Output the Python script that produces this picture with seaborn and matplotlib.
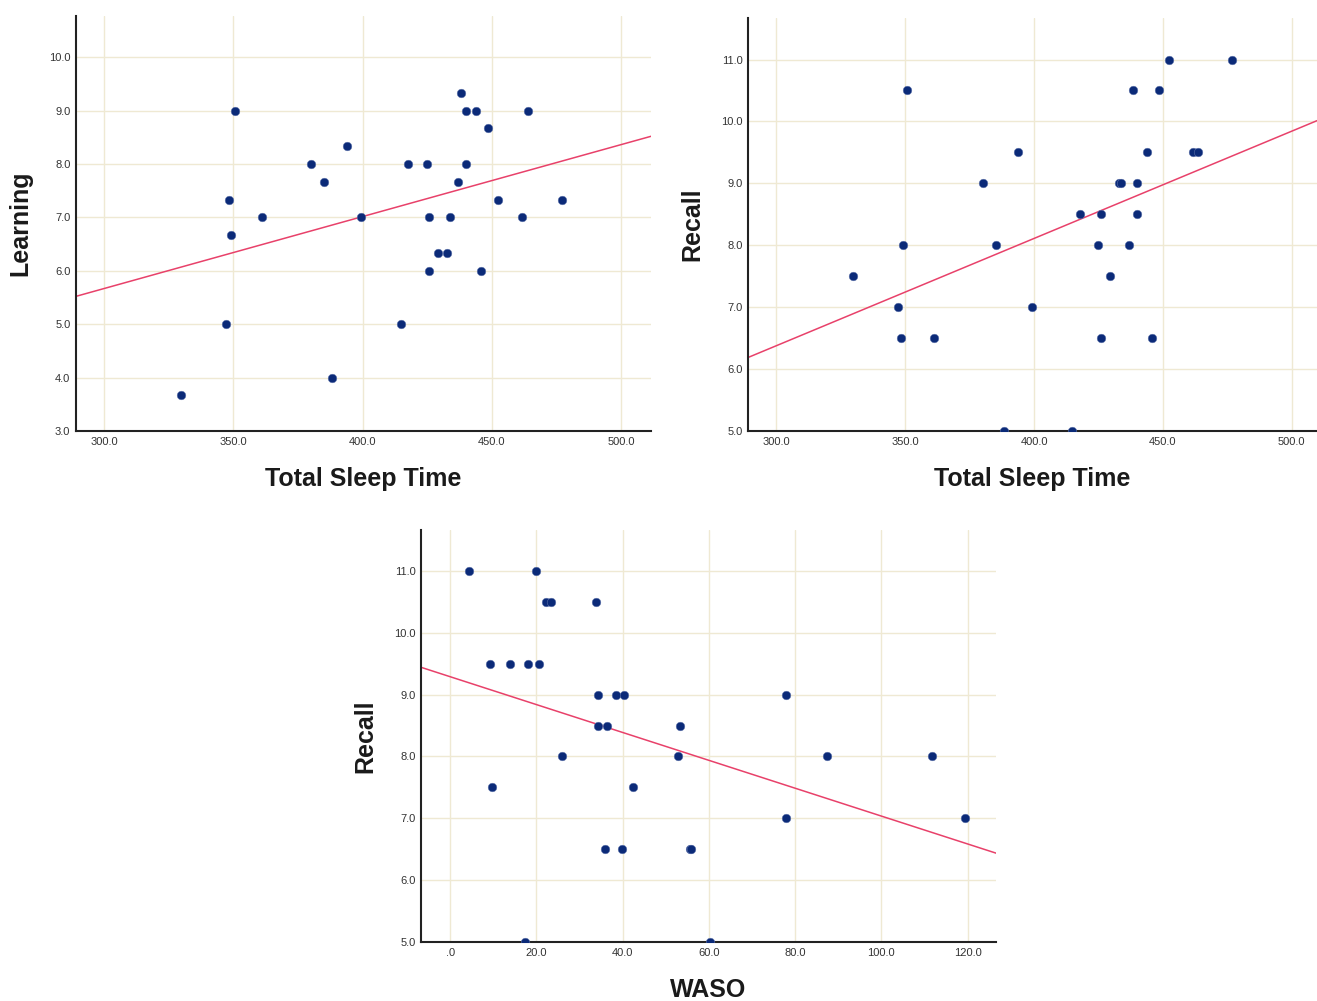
import matplotlib
import matplotlib.pyplot as plt
import numpy as np
import pandas as pd
import seaborn as sns
from matplotlib.ticker import FuncFormatter, MultipleLocator

matplotlib.use("Agg")

# Total sleep time (minutes), shared by the two top panels
tst = [329.7, 347.3, 348.3, 349.2, 350.5, 361.3, 380.2, 385.1, 388.3, 393.9,
       399.3, 414.8, 417.7, 425.0, 425.8, 425.8, 429.3, 432.8, 433.7, 436.9,
       438.2, 439.9, 440.0, 443.8, 445.9, 448.5, 452.4, 461.7, 463.8, 477.0]
learning = [3.67, 5.0, 7.33, 6.67, 9.0, 7.0, 8.0, 7.67, 4.0, 8.33,
            7.0, 5.0, 8.0, 8.0, 7.0, 6.0, 6.33, 6.33, 7.0, 7.67,
            9.33, 9.0, 8.0, 9.0, 6.0, 8.67, 7.33, 7.0, 9.0, 7.33]
recall_tst = [7.5, 7.0, 6.5, 8.0, 10.5, 6.5, 9.0, 8.0, 5.0, 9.5,
              7.0, 5.0, 8.5, 8.0, 8.5, 6.5, 7.5, 9.0, 9.0, 8.0,
              10.5, 9.0, 8.5, 9.5, 6.5, 10.5, 11.0, 9.5, 9.5, 11.0]

# Wake after sleep onset (minutes) vs recall
waso = [4.3, 9.2, 9.8, 13.8, 17.4, 18.0, 19.9, 20.7, 22.3, 23.3,
        26.0, 33.8, 34.3, 34.3, 35.8, 36.3, 38.4, 39.8, 40.3, 42.4,
        52.8, 53.4, 55.6, 55.9, 60.3, 78.0, 78.0, 87.4, 111.8, 119.3]
recall_waso = [11.0, 9.5, 7.5, 9.5, 5.0, 9.5, 11.0, 9.5, 10.5, 10.5,
               8.0, 10.5, 9.0, 8.5, 6.5, 8.5, 9.0, 6.5, 9.0, 7.5,
               8.0, 8.5, 6.5, 6.5, 5.0, 9.0, 7.0, 8.0, 8.0, 7.0]

sns.set_theme(style="white")
plt.rcParams["font.family"] = ["Liberation Sans", "DejaVu Sans"]

MARKER = "#0b2a78"
LINE = "#e8416a"
GRID = "#efe9d3"


def fmt(v, _pos):
    s = f"{v:.1f}"
    return s[1:] if s.startswith("0") else s


def panel(ax, x, y, xname, yname, xlim, ylim, xstep, ystep):
    df = pd.DataFrame({xname: x, yname: y})
    ax.set_xlim(*xlim)
    ax.set_ylim(*ylim)
    ax.xaxis.set_major_locator(MultipleLocator(xstep))
    ax.yaxis.set_major_locator(MultipleLocator(ystep))
    ax.grid(True, color=GRID, linewidth=1.0)
    ax.set_axisbelow(True)
    sns.regplot(data=df, x=xname, y=yname, ax=ax, ci=None, truncate=False,
                scatter=False, line_kws={"color": LINE, "linewidth": 1.1})
    sns.scatterplot(data=df, x=xname, y=yname, ax=ax, color=MARKER, s=38,
                    edgecolor="#5a6fa8", linewidth=0.4, zorder=3)
    ax.set_xlim(*xlim)
    ax.set_ylim(*ylim)
    ax.xaxis.set_major_formatter(FuncFormatter(fmt))
    ax.yaxis.set_major_formatter(FuncFormatter(fmt))
    ax.tick_params(axis="both", length=0, labelsize=8, colors="#333333", pad=4)
    for side in ["top", "right"]:
        ax.spines[side].set_visible(False)
    for side in ["left", "bottom"]:
        ax.spines[side].set_color("#222222")
        ax.spines[side].set_linewidth(1.5)
    ax.set_xlabel(xname, fontsize=18, fontweight="bold", labelpad=15, color="#1a1a1a")
    ax.set_ylabel(yname, fontsize=18, fontweight="bold", labelpad=12, color="#1a1a1a")


fig = plt.figure(figsize=(13.17, 10.01), dpi=100)
ax1 = fig.add_axes([0.0577, 0.5694, 0.4366, 0.4146])
ax2 = fig.add_axes([0.568, 0.5694, 0.432, 0.4126])
ax3 = fig.add_axes([0.3197, 0.0589, 0.4366, 0.4116])

panel(ax1, tst, learning, "Total Sleep Time", "Learning", (289.2, 511.5), (3.0, 10.77), 50, 1)
panel(ax2, tst, recall_tst, "Total Sleep Time", "Recall", (289.0, 509.8), (5.0, 11.67), 50, 1)
panel(ax3, waso, recall_waso, "WASO", "Recall", (-6.75, 126.6), (5.0, 11.66), 20, 1)

fig.savefig("out.png", dpi=100)
